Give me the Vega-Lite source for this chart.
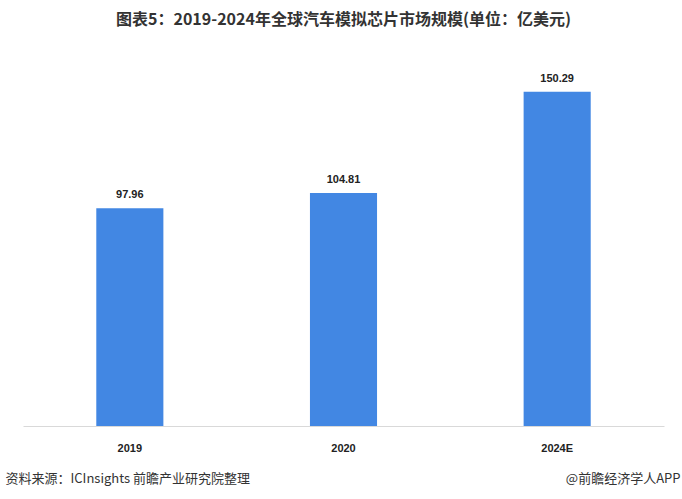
{
  "$schema": "https://vega.github.io/schema/vega-lite/v6.json",
  "width": 641,
  "height": 378,
  "autosize": {"type": "none"},
  "padding": {"left": 23, "top": 48, "right": 18, "bottom": 73},
  "background": "#ffffff",
  "title": {
    "text": "图表5：2019-2024年全球汽车模拟芯片市场规模(单位：亿美元)",
    "font": "Noto Sans CJK SC",
    "fontSize": 16,
    "fontWeight": "bold",
    "color": "#333333",
    "anchor": "middle",
    "offset": 20
  },
  "config": {"view": {"stroke": null}},
  "data": {
    "values": [
      {"year": "2019", "value": 97.96},
      {"year": "2020", "value": 104.81},
      {"year": "2024E", "value": 150.29}
    ]
  },
  "encoding": {
    "x": {
      "field": "year",
      "type": "nominal",
      "sort": null,
      "scale": {"paddingInner": 0.686, "paddingOuter": 0.343},
      "axis": {
        "title": "资料来源：ICInsights 前瞻产业研究院整理",
        "titleFont": "Noto Sans CJK SC",
        "titleFontSize": 13,
        "titleFontWeight": "normal",
        "titleColor": "#333333",
        "titleAlign": "left",
        "titleAnchor": "start",
        "titleBaseline": "middle",
        "titleX": -18,
        "titleY": 52,
        "labelAngle": 0,
        "labelFont": "Liberation Sans",
        "labelFontSize": 11,
        "labelFontWeight": "bold",
        "labelColor": "#222222",
        "labelPadding": 16,
        "ticks": false,
        "domainColor": "#d9d9d9",
        "domainWidth": 1
      }
    },
    "y": {
      "field": "value",
      "type": "quantitative",
      "scale": {"domain": [0, 170]},
      "axis": {
        "orient": "right",
        "title": "@前瞻经济学人APP",
        "titleFont": "Noto Sans CJK SC",
        "titleFontSize": 13,
        "titleFontWeight": "normal",
        "titleColor": "#333333",
        "titleAngle": 0,
        "titleAlign": "right",
        "titleBaseline": "middle",
        "titleX": 16,
        "titleY": 430,
        "labels": false,
        "ticks": false,
        "domain": false,
        "grid": false
      }
    }
  },
  "layer": [
    {"mark": {"type": "bar", "color": "#4287e3"}},
    {
      "mark": {
        "type": "text",
        "baseline": "bottom",
        "dy": -8,
        "font": "Liberation Sans",
        "fontSize": 11,
        "fontWeight": "bold",
        "color": "#222222"
      },
      "encoding": {"text": {"field": "value", "type": "quantitative", "format": ".2f"}}
    }
  ]
}
